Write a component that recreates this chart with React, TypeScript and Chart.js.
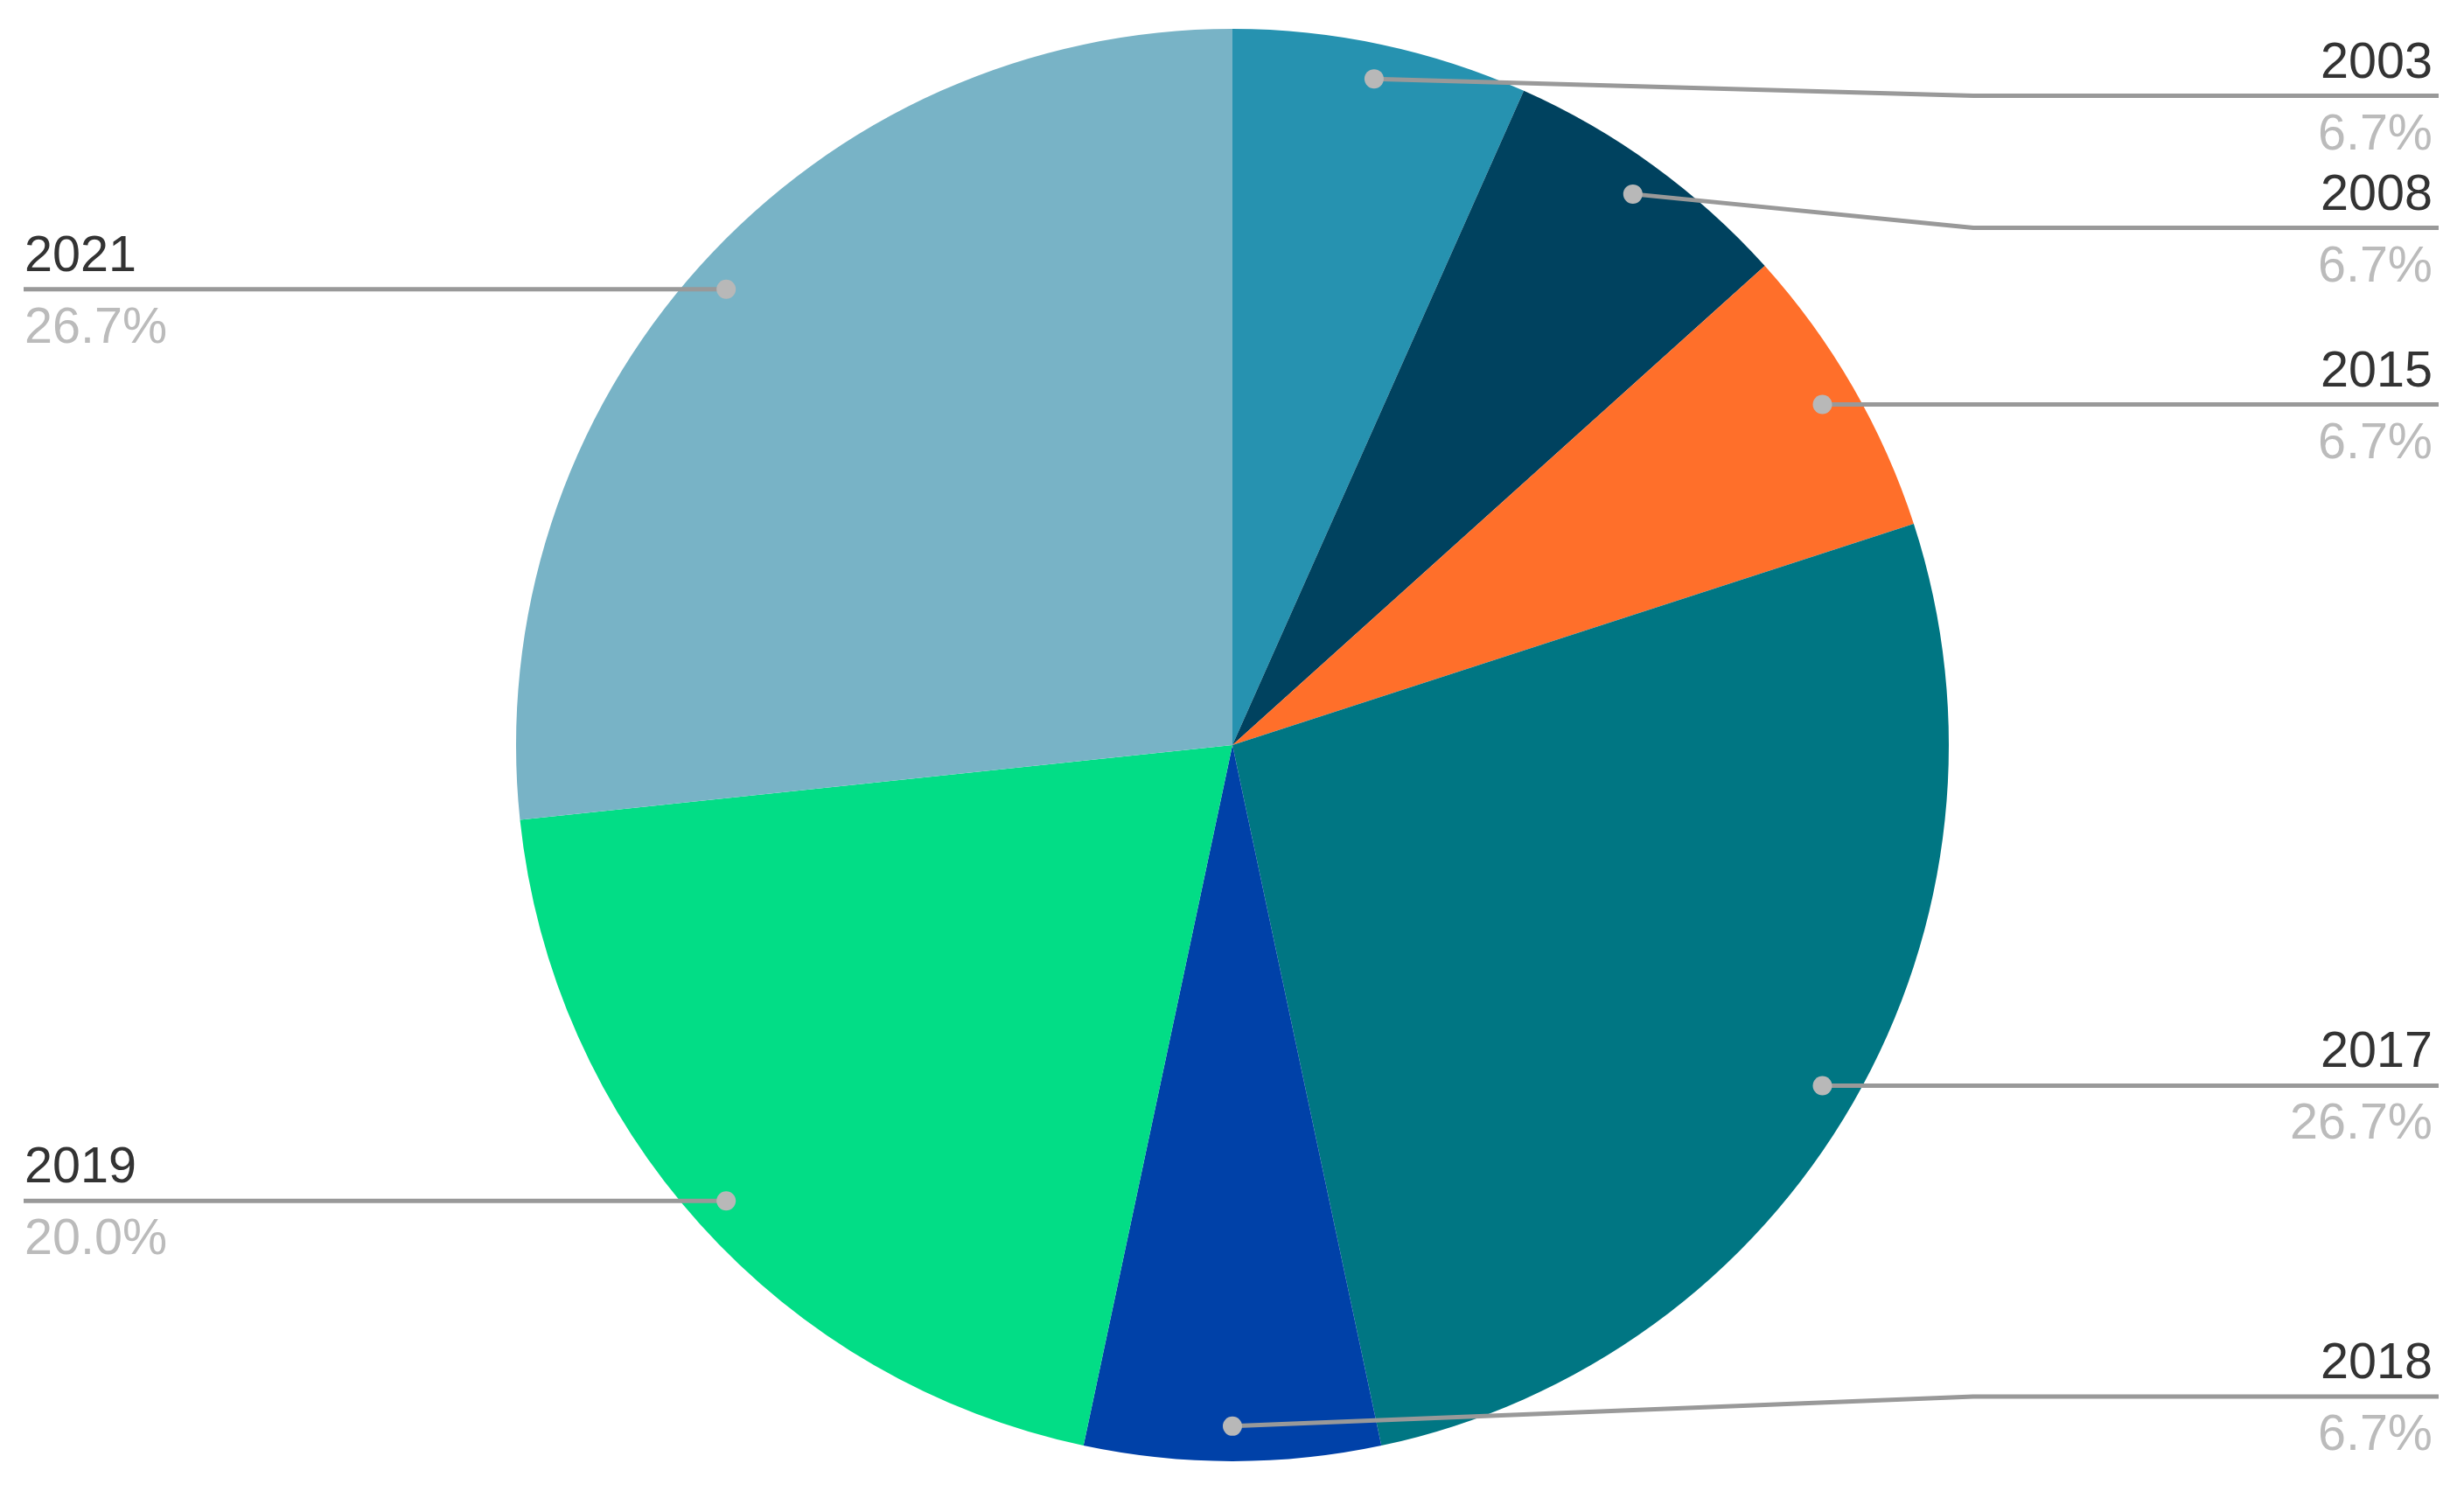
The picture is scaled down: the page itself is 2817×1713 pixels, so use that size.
import React, { useEffect, useRef } from "react";
import { Chart, registerables } from "chart.js";

Chart.register(...registerables);

const categories = ["2003", "2008", "2015", "2017", "2018", "2019", "2021"];
const counts = [1, 1, 1, 4, 1, 3, 4];
const sliceColors = ["#2692B0", "#00425F", "#FF6F2A", "#007683", "#0041A8", "#02DD86", "#78B3C6"];

const W = 2817;
const H = 1713;

const labelPlugin = {
  id: "leaderLabels",
  afterDatasetsDraw(chart: any) {
    const ctx = chart.ctx as CanvasRenderingContext2D;
    const meta = chart.getDatasetMeta(0);
    const data = chart.data.datasets[0].data as number[];
    const total = data.reduce((a, b) => a + b, 0);
    const items: any[] = [];
    meta.data.forEach((arc: any, i: number) => {
      const p = arc.getProps(["x", "y", "startAngle", "endAngle", "outerRadius"], true);
      const mid = (p.startAngle + p.endAngle) / 2;
      const r = p.outerRadius * 0.951;
      const dx = p.x + Math.cos(mid) * r;
      const dy = p.y + Math.sin(mid) * r;
      items.push({
        i,
        cx: p.x,
        R: p.outerRadius,
        dx,
        dy,
        right: dx >= p.x,
        ly: dy,
        name: chart.data.labels[i],
        pct: ((data[i] / total) * 100).toFixed(1) + "%",
      });
    });
    const gap = 151;
    const topMin = 109.5;
    const botMax = 1597;
    for (const side of [true, false]) {
      const s = items.filter((d) => d.right === side).sort((a, b) => a.dy - b.dy);
      for (let k = 0; k < s.length; k++) {
        let y = Math.max(s[k].dy, topMin);
        if (k > 0) y = Math.max(y, s[k - 1].ly + gap);
        s[k].ly = y;
      }
      for (let k = s.length - 1; k >= 0; k--) {
        let y = Math.min(s[k].ly, botMax);
        if (k < s.length - 1) y = Math.min(y, s[k + 1].ly - gap);
        s[k].ly = y;
      }
    }
    ctx.save();
    ctx.lineWidth = 5;
    ctx.strokeStyle = "#999999";
    ctx.lineJoin = "round";
    for (const d of items) {
      const elbowX = d.right ? d.cx + d.R + 28 : d.cx - d.R - 28;
      const endX = d.right ? 2788 : 27;
      ctx.beginPath();
      ctx.moveTo(d.dx, d.dy);
      ctx.lineTo(elbowX, d.ly);
      ctx.lineTo(endX, d.ly);
      ctx.stroke();
    }
    ctx.fillStyle = "#B8B8B8";
    for (const d of items) {
      ctx.beginPath();
      ctx.arc(d.dx, d.dy, 11, 0, Math.PI * 2);
      ctx.fill();
    }
    ctx.font = "57.5px 'Liberation Sans', Arial, sans-serif";
    ctx.textBaseline = "alphabetic";
    for (const d of items) {
      ctx.textAlign = d.right ? "right" : "left";
      const tx = d.right ? 2781 : 28;
      ctx.fillStyle = "#333333";
      ctx.fillText(d.name, tx, d.ly - 21);
      ctx.fillStyle = "#BBBBBB";
      ctx.fillText(d.pct, tx, d.ly + 61);
    }
    ctx.restore();
  },
};

export default function App() {
  const ref = useRef<HTMLCanvasElement>(null);
  useEffect(() => {
    document.body.style.margin = "0";
    const chart = new Chart(ref.current as HTMLCanvasElement, {
      type: "pie",
      data: {
        labels: categories,
        datasets: [
          {
            data: counts,
            backgroundColor: sliceColors,
            borderWidth: 0,
          },
        ],
      },
      options: {
        animation: false,
        responsive: false,
        devicePixelRatio: 1,
        layout: { padding: { top: 32, bottom: 41, left: 590, right: 589 } },
        plugins: {
          legend: { display: false },
          tooltip: { enabled: false },
        },
      },
      plugins: [labelPlugin],
    });
    return () => chart.destroy();
  }, []);
  return (
    <div style={{ position: "absolute", left: 0, top: 0, width: W, height: H, background: "#fff" }}>
      <canvas ref={ref} width={W} height={H} style={{ width: W, height: H, display: "block" }} />
    </div>
  );
}
